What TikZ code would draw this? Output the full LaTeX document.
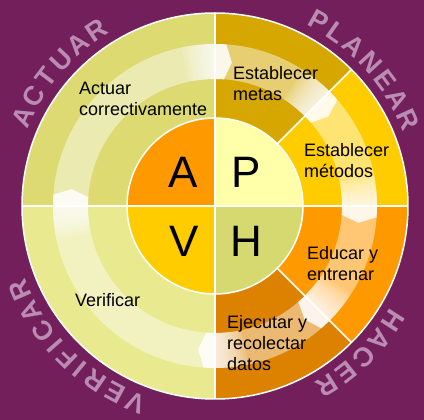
\documentclass[tikz,border=0pt]{standalone}
\usepackage{fontspec}
\setmainfont{Liberation Sans}
\usepackage{tikz}

\definecolor{bgpurple}{RGB}{115,31,92}
\definecolor{ringtext}{RGB}{186,140,178}
\definecolor{actcol}{RGB}{220,218,112}
\definecolor{vercol}{RGB}{233,233,143}
\definecolor{metcol}{RGB}{213,167,0}
\definecolor{metodcol}{RGB}{255,204,0}
\definecolor{educol}{RGB}{255,153,0}
\definecolor{ejecol}{RGB}{221,129,0}
\definecolor{pcol}{RGB}{255,255,170}
\definecolor{hcol}{RGB}{214,216,112}

\begin{document}
\begin{tikzpicture}[x=1pt,y=1pt,
  sector text/.style={anchor=north west,inner sep=0,align=left,font=\fontsize{18}{21}\selectfont},
  big letter/.style={inner sep=0,font=\fontsize{44}{44}\selectfont},
  ring letter/.style={inner sep=0,text=ringtext,font=\bfseries\fontsize{27}{27}\selectfont},
  sep line/.style={white,line width=1.5}]
  % background
  \fill[bgpurple] (-215,-214) rectangle (209,206);
  \useasboundingbox (-215,-214) rectangle (209,206);

  % outer sectors
  \foreach \a/\b/\c in {90/180/actcol,180/270/vercol,45/90/metcol,0/45/metodcol,-45/0/educol,-90/-45/ejecol}
    \fill[\c] (0,0) -- (\a:193) arc[start angle=\a,end angle=\b,radius=193] -- cycle;

  % light band
  \fill[white,opacity=.45,even odd rule] (0,0) circle (162) (0,0) circle (127);

  % arrow heads at the borders
  \foreach \t in {180,90,45,0,-45,-90} {
    \foreach \k in {1,...,10}
      \fill[white,opacity=.13] (\t:127) arc[start angle=\t,end angle=\t+1.2*\k,radius=127]
        -- (\t+1.2*\k:162) arc[start angle=\t+1.2*\k,end angle=\t,radius=162] -- cycle;
    \fill[white,opacity=.85] (\t:127) arc[start angle=\t,end angle=\t-4,radius=127]
      -- (\t-6.7:144.5) -- (\t-4:162) arc[start angle=\t-4,end angle=\t,radius=162] -- cycle;
  }

  % inner circle
  \foreach \a/\c in {90/educol,0/pcol,180/metodcol,270/hcol}
    \fill[\c] (0,0) -- (\a:88) arc[start angle=\a,end angle=\a+90,radius=88] -- cycle;

  % white borders
  \draw[sep line] (0,0) circle (193);
  \draw[sep line] (0,0) circle (88);
  \foreach \t in {0,90,180,270}
    \draw[sep line] (0,0) -- (\t:193);
  \foreach \t in {45,315}
    \draw[sep line] (\t:88) -- (\t:193);

  \node[big letter] (a) at (-32,34) {A};
  \node[big letter] (p) at (31,34) {P};
  \node[big letter] (v) at (-31,-35) {V};
  \node[big letter] (h) at (31,-35) {H};

  % sector texts
  \node[sector text] (actuar) at (-136,124) {Actuar\\correctivamente};
  \node[sector text] (metas) at (18,140) {Establecer\\metas};
  \node[sector text] (metodos) at (89,63) {Establecer\\métodos};
  \node[sector text] (educar) at (92,-40) {Educar y\\entrenar};
  \node[sector text] (ejecutar) at (12,-109) {Ejecutar y\\recolectar\\datos};
  \node[sector text] (verificar) at (-140,-87) {Verificar};

  % ring words
  \foreach \a/\ch in {155.1/A,148.8/C,142.7/T,136.5/U,130.3/A,124/R,
      60.6/P,54.9/L,49.1/A,42.8/N,36.5/E,30.4/A,24.2/R,
      -32.8/H,-39.1/A,-45.4/C,-51.7/E,-58/R,
      247.9/V,241.8/E,235.5/R,230.5/I,225.8/F,221.2/I,216.1/C,209.8/A,203.5/R}
    \node[ring letter,rotate=\a-90] at (\a:212) {\ch};
\end{tikzpicture}
\end{document}
